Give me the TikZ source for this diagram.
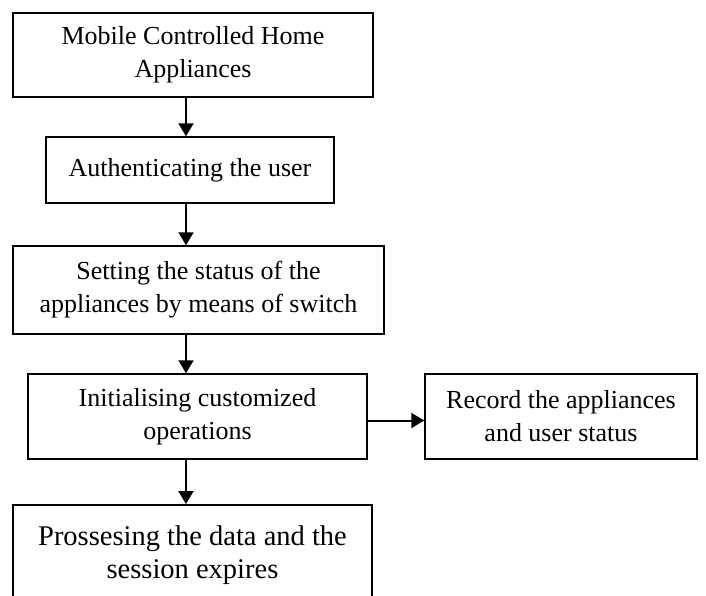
\documentclass[tikz,border=0pt]{standalone}
\usepackage{fontspec}
\setmainfont{Liberation Serif}
\usetikzlibrary{arrows.meta}

\begin{document}
\begin{tikzpicture}[x=1pt,y=-1pt,
box/.style={draw,line width=1.5pt,align=center,inner sep=0pt,font=\fontsize{26}{33}\selectfont},
arr/.style={-{Triangle[length=13pt,width=15pt]},line width=2pt}]
\useasboundingbox (0,0) rectangle (706,595);
\clip (0,0) rectangle (706,595);
\node[box,minimum width=360,minimum height=84] (mobile) at (193,55) {Mobile Controlled Home\\Appliances};
\node[box,minimum width=288,minimum height=66] (auth) at (190,170) {Authenticating the user};
\node[box,minimum width=371,minimum height=88] (setting) at (198.5,290) {Setting the status of the\\appliances by means of switch};
\node[box,minimum width=339,minimum height=85] (init) at (197.5,416.5) {Initialising customized\\operations};
\node[box,minimum width=272,minimum height=85] (record) at (561,416.5) {Record the appliances\\and user status};
\node[box,anchor=north,minimum width=359,minimum height=100,font=\fontsize{28.5}{33}\selectfont] (process) at (192.5,504) {Prossesing the data and the\\session expires};
\coordinate (spine) at (186,0);
\draw[arr] (spine |- mobile.south) -- (spine |- auth.north);
\draw[arr] (spine |- auth.south) -- (spine |- setting.north);
\draw[arr] (spine |- setting.south) -- (spine |- init.north);
\draw[arr] (spine |- init.south) -- (spine |- process.north);
\draw[arr] ([yshift=-4pt]init.east) -- ([yshift=-4pt]record.west);
\end{tikzpicture}
\end{document}
